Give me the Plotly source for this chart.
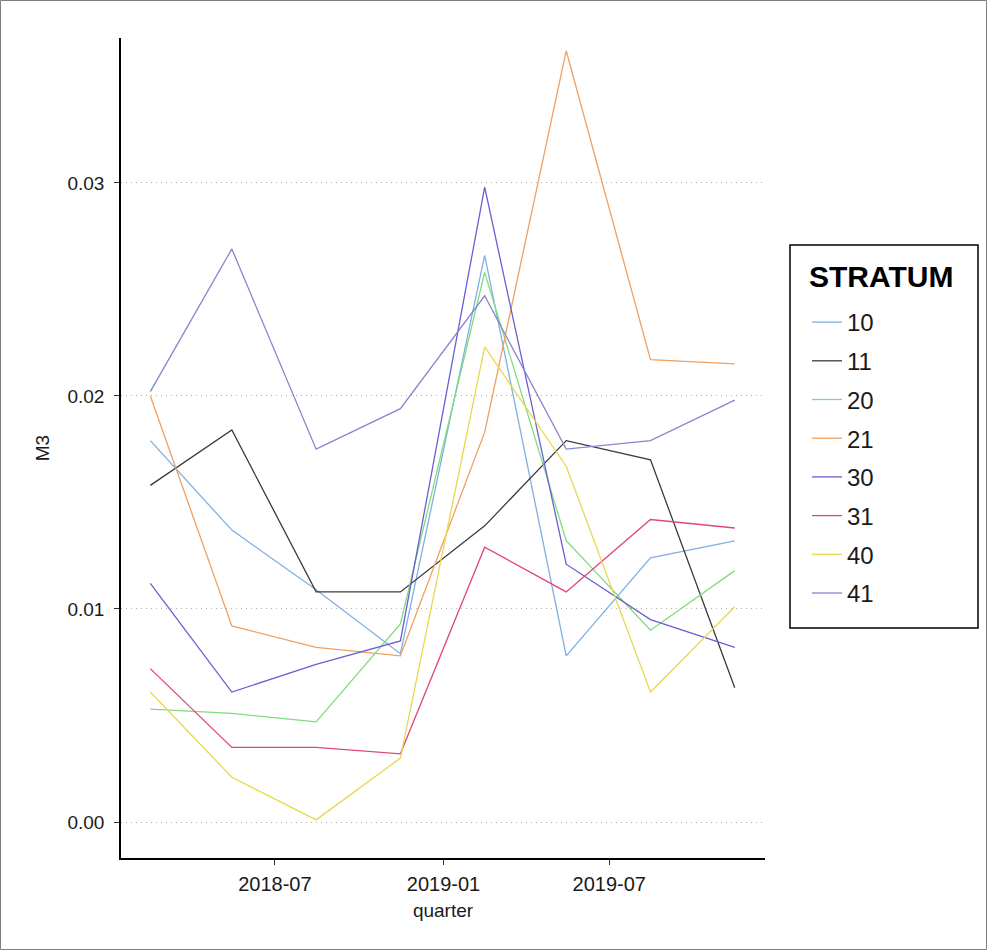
import plotly.graph_objects as go

quarters = ["2018-02-15", "2018-05-15", "2018-08-15", "2018-11-15",
            "2019-02-15", "2019-05-15", "2019-08-15", "2019-11-15"]

strata = ["10", "11", "20", "21", "30", "31", "40", "41"]

m3_10 = [0.0179, 0.0137, 0.0109, 0.0079, 0.0266, 0.0078, 0.0124, 0.0132]
m3_11 = [0.0158, 0.0184, 0.0108, 0.0108, 0.0139, 0.0179, 0.0170, 0.0063]
m3_20 = [0.0053, 0.0051, 0.0047, 0.0093, 0.0258, 0.0132, 0.0090, 0.0118]
m3_21 = [0.0200, 0.0092, 0.0082, 0.0078, 0.0183, 0.0362, 0.0217, 0.0215]
m3_30 = [0.0112, 0.0061, 0.0074, 0.0085, 0.0298, 0.0121, 0.0095, 0.0082]
m3_31 = [0.0072, 0.0035, 0.0035, 0.0032, 0.0129, 0.0108, 0.0142, 0.0138]
m3_40 = [0.0061, 0.0021, 0.0001, 0.0030, 0.0223, 0.0167, 0.0061, 0.0101]
m3_41 = [0.0202, 0.0269, 0.0175, 0.0194, 0.0247, 0.0175, 0.0179, 0.0198]

series = [m3_10, m3_11, m3_20, m3_21, m3_30, m3_31, m3_40, m3_41]
colors = ["#7FB0E2", "#3A3A3A", "#7EDC7E", "#F0A060",
          "#6A5ED2", "#E0457C", "#E8D84E", "#8A84CE"]

legend_title = "STRATUM"
x_ticks = ["2018-07-01", "2019-01-01", "2019-07-01"]
x_ticktext = ["2018-07", "2019-01", "2019-07"]
y_ticks = [0.00, 0.01, 0.02, 0.03]

fig = go.Figure()
for name, vals, col in zip(strata, series, colors):
    fig.add_trace(go.Scatter(
        x=quarters, y=vals, mode="lines", name=name,
        legendgroup=name,
        line=dict(color=col, width=1.3),
    ))

font_family = "Liberation Sans, Arial, sans-serif"
txt = "#1a1a1a"

# plot area pixels: left 121, right 765, top 38, bottom 858
L, R, T, B = 121, 765, 38, 858
W, H = 987, 950
pw, ph = R - L, B - T

def px_x(p):
    return (p - L) / pw

def px_y(p):
    return (B - p) / ph

fig.update_layout(
    width=W, height=H,
    margin=dict(l=L, r=W - R, t=T, b=H - B),
    paper_bgcolor="white", plot_bgcolor="white",
    font=dict(family=font_family, size=19, color=txt),
    showlegend=True,
    legend=dict(
        font=dict(size=24, color=txt),
        x=px_x(807), y=px_y(300), xanchor="left", yanchor="top",
        borderwidth=0,
        bgcolor="rgba(0,0,0,0)",
        tracegroupgap=4.5,
        itemwidth=30,
    ),
    xaxis=dict(
        type="date",
        range=["2018-01-14", "2019-12-18"],
        tickvals=x_ticks, ticktext=x_ticktext,
        showgrid=False, zeroline=False,
        showline=True, linecolor="#000000", linewidth=1.5,
        ticks="outside", ticklen=5, tickcolor="#333333", tickwidth=1,
        tickfont=dict(size=20, color=txt),
        ticklabelstandoff=2,
        title=dict(text="quarter", font=dict(size=19, color=txt), standoff=10),
    ),
    yaxis=dict(
        range=[-0.00169, 0.0368],
        tickvals=y_ticks, tickformat=".2f",
        showgrid=True, gridcolor="#B0B0B0", griddash="1px,4px", gridwidth=1,
        zeroline=False,
        showline=True, linecolor="#000000", linewidth=1.5,
        ticks="outside", ticklen=5, tickcolor="#333333", tickwidth=1,
        tickfont=dict(size=19, color=txt),
        ticklabelstandoff=6,
        title=dict(text="M3", font=dict(size=19, color=txt), standoff=13),
    ),
    annotations=[dict(
        text="<b>" + legend_title + "</b>", xref="paper", yref="paper",
        x=px_x(807), y=px_y(276), xanchor="left", yanchor="middle",
        showarrow=False, font=dict(size=30, color="#000000"),
    )],
    shapes=[
        dict(
            type="rect", xref="paper", yref="paper",
            x0=px_x(0.5), x1=px_x(986.5), y0=px_y(949.5), y1=px_y(0.5),
            line=dict(color="#7F7F7F", width=1), fillcolor="rgba(0,0,0,0)",
            layer="below",
        ),
        dict(
            type="rect", xref="paper", yref="paper",
            x0=px_x(790), x1=px_x(978), y0=px_y(628), y1=px_y(245),
            line=dict(color="#000000", width=1.5), fillcolor="rgba(0,0,0,0)",
            layer="above",
        ),
    ],
)

fig.write_html("out.html", config={"displayModeBar": False},
               post_script="document.body.style.margin='0px';")
